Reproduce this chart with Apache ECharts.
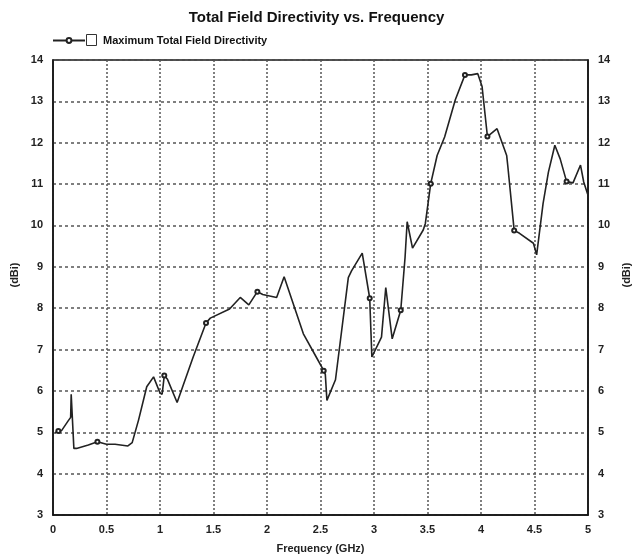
<!DOCTYPE html>
<html>
<head>
<meta charset="utf-8">
<script src="https://cdn.jsdelivr.net/npm/echarts@6/dist/echarts.min.js"></script>
<style>
html,body{margin:0;padding:0;background:#fff;}
#chart{width:633px;height:559px;}
</style>
</head>
<body>
<div id="chart"></div>
<script>
// Frequency (GHz)
var freq = [0.02,0.05,0.08,0.14,0.165,0.17,0.195,0.22,0.33,0.415,0.50,0.58,0.70,0.74,0.80,0.876,0.94,1.0,1.02,1.04,1.07,1.16,1.31,1.43,1.47,1.65,1.75,1.83,1.91,1.96,2.09,2.16,2.34,2.46,2.53,2.545,2.56,2.64,2.76,2.79,2.89,2.96,2.98,3.07,3.11,3.17,3.25,3.29,3.31,3.36,3.46,3.48,3.53,3.59,3.66,3.76,3.85,3.91,3.97,4.01,4.06,4.15,4.24,4.25,4.31,4.36,4.49,4.52,4.58,4.63,4.69,4.74,4.80,4.86,4.93,4.96,5.0];
// Maximum Total Field Directivity (dBi)
var directivity = [4.99,5.03,5.04,5.27,5.36,5.92,4.61,4.61,4.69,4.77,4.71,4.71,4.67,4.75,5.3,6.1,6.34,5.95,5.92,6.37,6.28,5.72,6.82,7.64,7.76,7.98,8.26,8.08,8.40,8.33,8.26,8.76,7.38,6.82,6.49,6.4,5.77,6.27,8.74,8.9,9.33,8.24,6.82,7.30,8.5,7.26,7.95,9.22,10.09,9.45,9.89,10.05,11.01,11.69,12.14,13.04,13.64,13.64,13.67,13.36,12.15,12.34,11.69,11.45,9.88,9.81,9.57,9.29,10.53,11.29,11.94,11.61,11.06,11.03,11.46,11.05,10.73];
// points that carry a circle marker
var markerFreqs = [0.05,0.415,1.04,1.43,1.91,2.53,2.96,3.25,3.53,3.85,4.06,4.31,4.80];
var xTicks = [0,0.5,1,1.5,2,2.5,3,3.5,4,4.5,5];
var yTicks = [3,4,5,6,7,8,9,10,11,12,13,14];
var seriesName = 'Maximum Total Field Directivity';

var seriesData = freq.map(function(f, i){
  var item = {value:[f, directivity[i]]};
  if (markerFreqs.indexOf(f) < 0) item.symbol = 'none';
  return item;
});

var labelStyle = {color:'#222', fontFamily:'Liberation Sans, Arial', fontWeight:'bold', fontSize:11};

var chart = echarts.init(document.getElementById('chart'), null, {renderer:'canvas'});
chart.setOption({
  animation:false,
  backgroundColor:'#fff',
  title:{
    text:'Total Field Directivity vs. Frequency',
    left:'center', top:5,
    textStyle:{color:'#111', fontFamily:'Liberation Sans, Arial', fontWeight:'bold', fontSize:15}
  },
  legend:{
    left:52, top:35, padding:0,
    itemWidth:32, itemHeight:6, itemGap:4,
    textStyle:{color:'#111', fontFamily:'Liberation Sans, Arial', fontWeight:'bold', fontSize:11, padding:[0,0,0,13]},
    data:[seriesName]
  },
  graphic:[
    {type:'rect', left:86, top:34, shape:{width:10, height:11}, style:{fill:'#fff', stroke:'#333', lineWidth:1}},
    {type:'text', x:15, y:275, rotation:Math.PI/2, style:{text:'(dBi)', fill:'#222', font:'bold 11px Liberation Sans, Arial', textAlign:'center', textVerticalAlign:'middle'}},
    {type:'text', x:627, y:275, rotation:Math.PI/2, style:{text:'(dBi)', fill:'#222', font:'bold 11px Liberation Sans, Arial', textAlign:'center', textVerticalAlign:'middle'}}
  ],
  grid:{left:53, right:45, top:60, bottom:39, show:true, borderColor:'#111', borderWidth:1.5, containLabel:false},
  xAxis:{
    type:'value', min:0, max:5, interval:0.5,
    name:'Frequency (GHz)', nameLocation:'middle', nameGap:28,
    nameTextStyle:{color:'#222', fontFamily:'Liberation Sans, Arial', fontWeight:'bold', fontSize:11},
    axisLine:{show:true, lineStyle:{color:'#111', width:1.5}},
    axisTick:{show:false},
    axisLabel:Object.assign({margin:9, formatter:function(v){return xTicks.indexOf(v)>=0 ? String(v) : '';}}, labelStyle),
    splitLine:{show:true, lineStyle:{color:'#555', type:[2,2], width:1.5}}
  },
  yAxis:[
    {
      type:'value', min:3, max:14, interval:1, position:'left',
      axisLine:{show:true, lineStyle:{color:'#111', width:1.5}},
      axisTick:{show:false},
      axisLabel:Object.assign({margin:10, formatter:function(v){return yTicks.indexOf(v)>=0 ? String(v) : '';}}, labelStyle),
      splitLine:{show:true, lineStyle:{color:'#555', type:[3,3], width:1.5}}
    },
    {
      type:'value', min:3, max:14, interval:1, position:'right',
      axisLine:{show:true, lineStyle:{color:'#111', width:1.5}},
      axisTick:{show:false},
      axisLabel:Object.assign({margin:10, formatter:function(v){return yTicks.indexOf(v)>=0 ? String(v) : '';}}, labelStyle),
      splitLine:{show:false}
    }
  ],
  series:[{
    name:seriesName,
    type:'line',
    yAxisIndex:0,
    data:seriesData,
    symbol:'emptyCircle',
    symbolSize:4,
    showSymbol:true,
    itemStyle:{color:'#222', borderColor:'#222', borderWidth:1},
    lineStyle:{color:'#222', width:1.6}
  }]
});
</script>
</body>
</html>
